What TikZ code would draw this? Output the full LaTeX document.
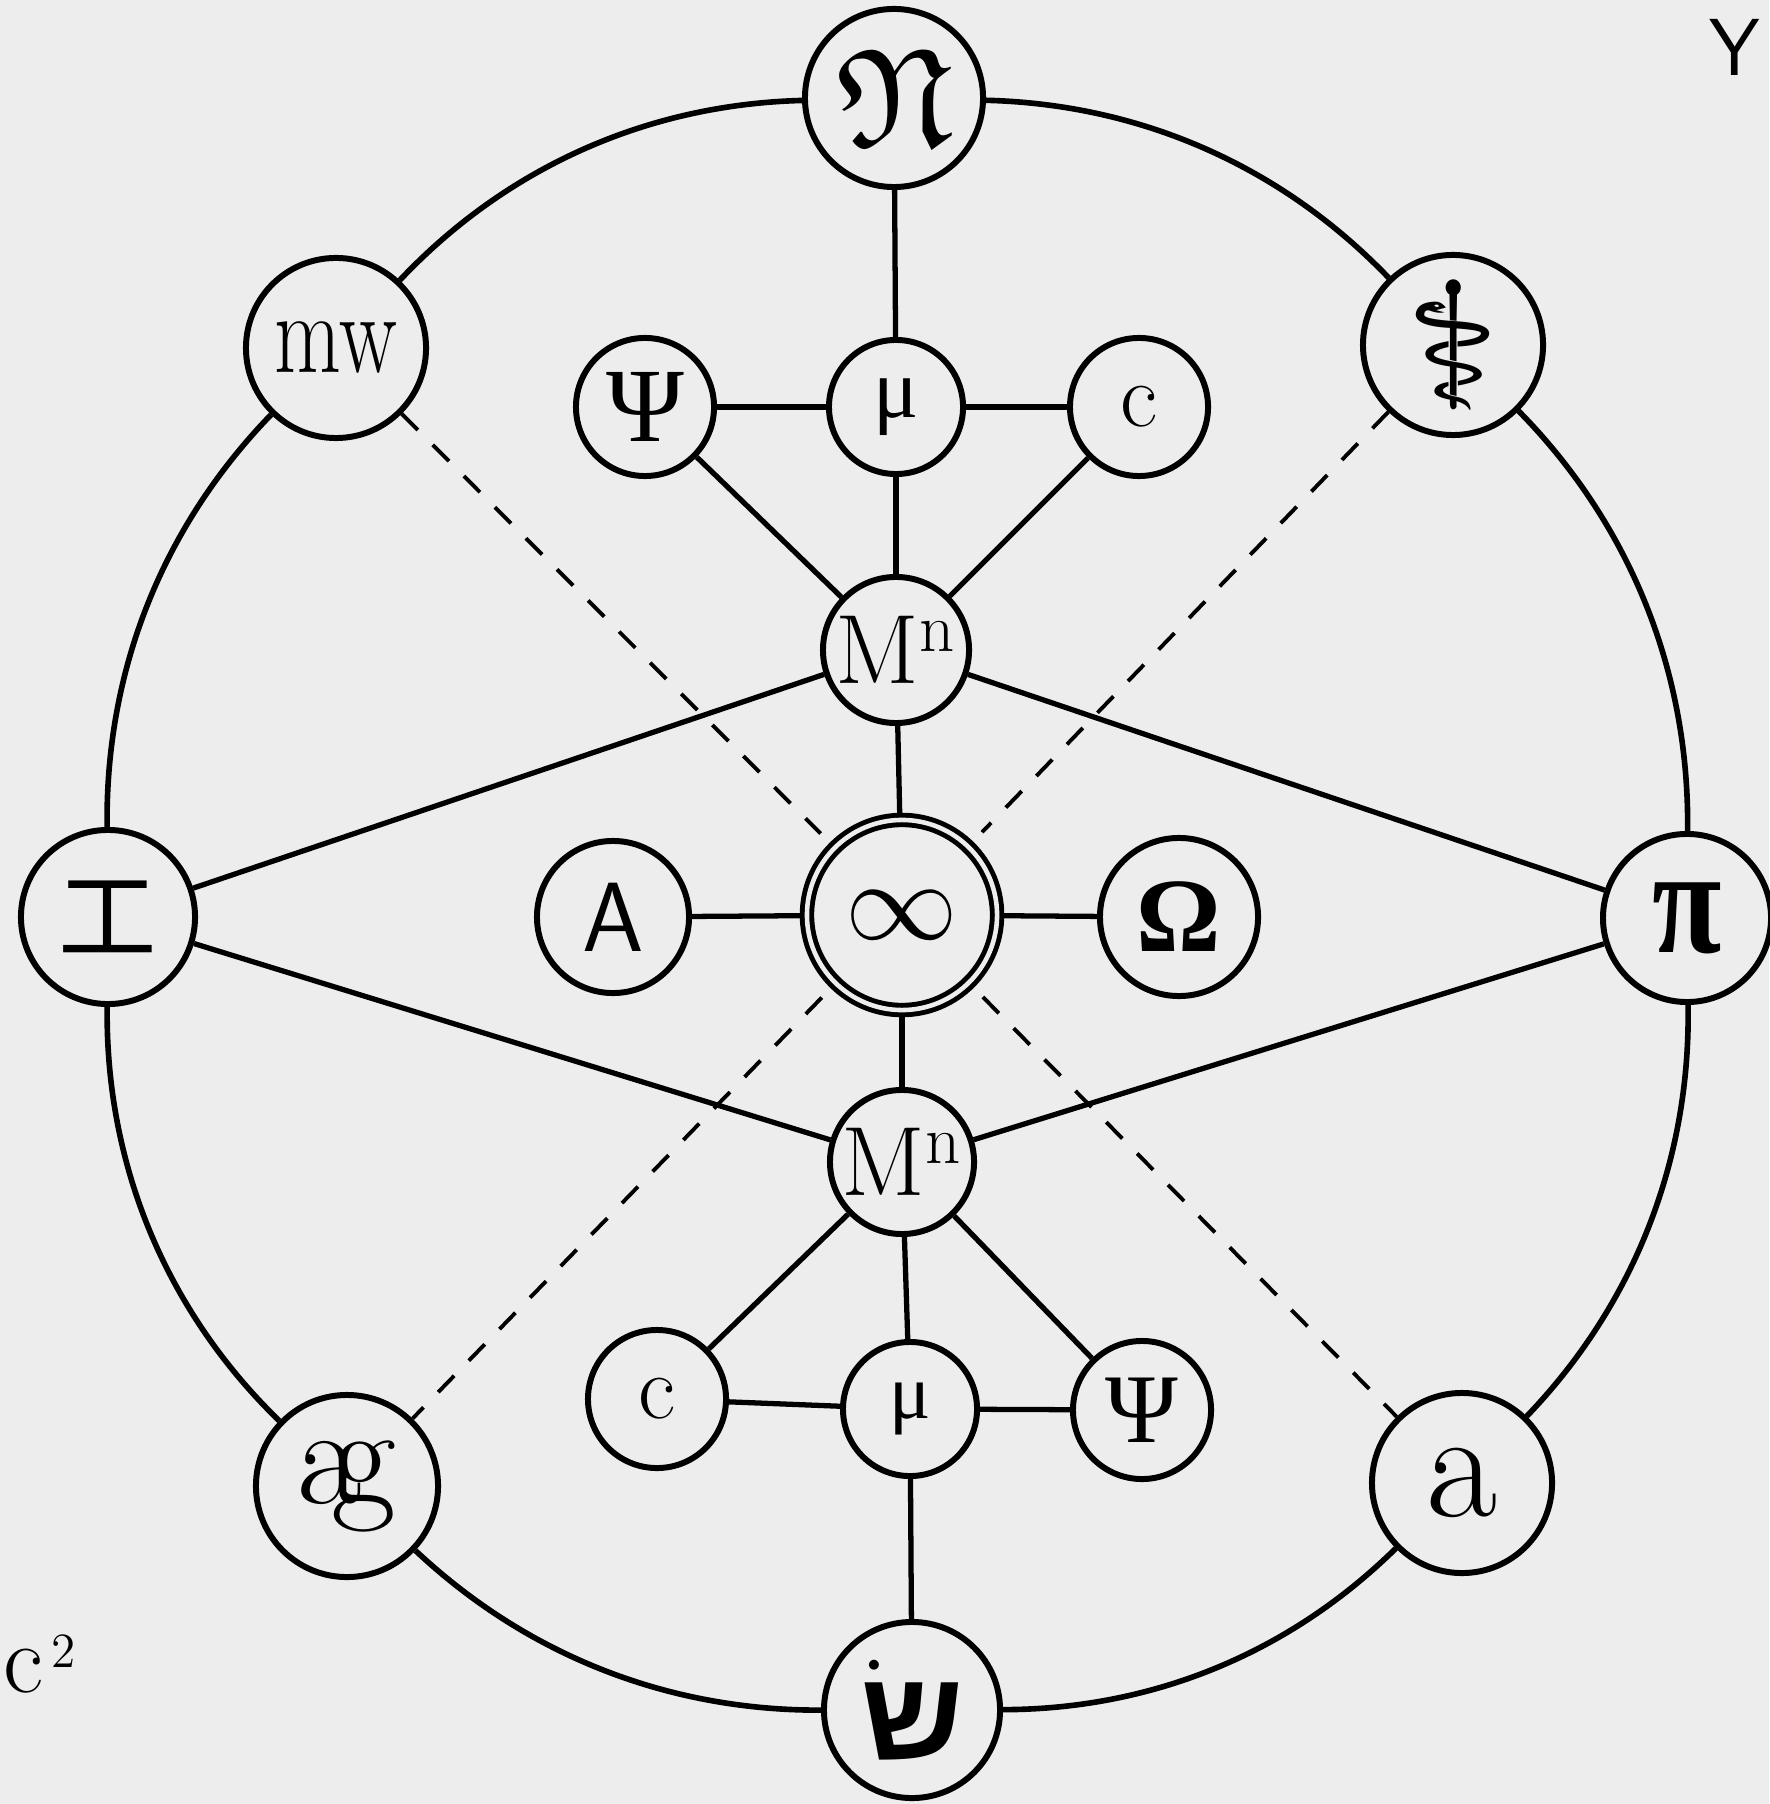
\documentclass[tikz,border=0pt]{standalone}
\usepackage{fontspec}
\usepackage{amssymb}
\usetikzlibrary{backgrounds}
\newfontfamily\cjkfont{Noto Sans CJK SC}
\newfontfamily\symfont{DejaVu Sans}
\newfontfamily\grkfont{Liberation Serif}
\newfontfamily\hebfont[Script=Hebrew]{Liberation Sans}
\TeXXeTstate=1
\newcommand\myfs[1]{\fontsize{#1}{#1}\selectfont}
\definecolor{paper}{gray}{0.93}
\begin{document}
\begin{tikzpicture}[x=0.01cm,y=-0.01cm,
  nd/.style={circle,draw=black,line width=1.7pt,fill=paper,inner sep=0pt},
  big/.style={nd,minimum size=1.78cm},
  small/.style={nd,minimum size=1.38cm},
  ln/.style={line width=1.5pt},
  arc/.style={line width=1.6pt,bend left=#1,looseness=0.9},
  dsh/.style={line width=1.1pt,dash pattern=on 6.5pt off 6pt},
  lbl/.style={inner sep=0pt}]
\useasboundingbox (0,0) rectangle (1769,1804);
% outer ring nodes
\node[big] (N) at (894,98) {\scalebox{4}{$\mathfrak{N}$}};
\node[big,minimum size=1.8cm] (mw) at (336,348) {\scalebox{0.82}[1.1]{\myfs{30}mw}};
\node[big,minimum size=1.8cm] (ys) at (1453,345) {\symfont\myfs{50}⚕};
\node[big,minimum size=1.74cm] (L) at (108,917) {\cjkfont\myfs{28}工};
\node[big,minimum size=1.68cm] (R) at (1687,918) {\grkfont\bfseries\myfs{36}\scalebox{1}[1.2]{π}};
\node[big,minimum size=1.82cm] (ag) at (347,1486) {\myfs{40}a\kern-0.22em g};
\node[big,minimum size=1.8cm] (a) at (1462,1483) {\myfs{44}a};
\node[big,minimum size=1.76cm] (bot) at (912,1710) {\hebfont\bfseries\myfs{36}\beginR שׂ\endR};
% upper triad
\node[small] (Pt) at (645,407) {\grkfont\myfs{30}Ψ};
\node[small,minimum size=1.34cm] (mt) at (896,407) {\grkfont\myfs{24}μ};
\node[small] (ct) at (1139,407) {\myfs{26}c};
\node[nd,minimum size=1.46cm] (Mt) at (896,650) {\myfs{28}M\textsuperscript{n}};
% middle row
\node[nd,minimum size=1.52cm] (A) at (613,917) {\sffamily\myfs{28}A};
\node[circle,draw=black,fill=paper,line width=1.4pt,double=paper,double distance=1.3pt,minimum size=1.9cm,inner sep=0pt] (inf) at (902,915) {\scalebox{3.2}{$\infty$}};
\node[nd,minimum size=1.58cm] (O) at (1179,917) {\grkfont\bfseries\myfs{30}Ω};
% lower triad
\node[nd,minimum size=1.44cm] (Mb) at (902,1162) {\myfs{28}M\textsuperscript{n}};
\node[small] (cb) at (657,1399) {\myfs{26}c};
\node[small,minimum size=1.34cm] (mb) at (910,1409) {\grkfont\myfs{22}μ};
\node[small] (Pb) at (1142,1410) {\grkfont\myfs{28}Ψ};
% loose labels
\node[lbl,anchor=center] (Y) at (1735,47) {\sffamily\myfs{23}Y};
\node[lbl,anchor=base west] (c2) at (3,1692) {\myfs{28}c\kern0.08em\raisebox{7pt}{\myfs{14}2}};
\begin{pgfonlayer}{background}
\fill[paper] (0,0) rectangle (1769,1804);
% outer ring
\draw[arc=22.4] (N) to (ys);
\draw[arc=22.6] (ys) to (R);
\draw[arc=22.4] (R) to (a);
\draw[arc=22.2] (a) to (bot);
\draw[arc=21.7] (bot) to (ag);
\draw[arc=23.3] (ag) to (L);
\draw[arc=22.4] (L) to (mw);
\draw[arc=22.6] (mw) to (N);
% spokes
\draw[ln] (N) -- (mt);
\draw[ln] (Pt) -- (mt);
\draw[ln] (mt) -- (ct);
\draw[ln] (Pt) -- (Mt);
\draw[ln] (mt) -- (Mt);
\draw[ln] (ct) -- (Mt);
\draw[ln] (Mt) -- (inf);
\draw[ln] (Mt) -- (L);
\draw[ln] (Mt) -- (R);
\draw[ln] (A) -- (inf);
\draw[ln] (inf) -- (O);
\draw[ln] (inf) -- (Mb);
\draw[ln] (Mb) -- (L);
\draw[ln] (Mb) -- (R);
\draw[ln] (Mb) -- (cb);
\draw[ln] (Mb) -- (mb);
\draw[ln] (Mb) -- (Pb);
\draw[ln] (cb) -- (mb);
\draw[ln] (mb) -- (Pb);
\draw[ln] (mb) -- (bot);
% dashed diagonals
\draw[dsh,shorten >=5pt] (mw) -- (inf);
\draw[dsh,shorten >=5pt] (ys) -- (inf);
\draw[dsh,shorten <=5pt] (inf) -- (ag);
\draw[dsh,shorten <=5pt] (inf) -- (a);
\end{pgfonlayer}
\end{tikzpicture}
\end{document}
